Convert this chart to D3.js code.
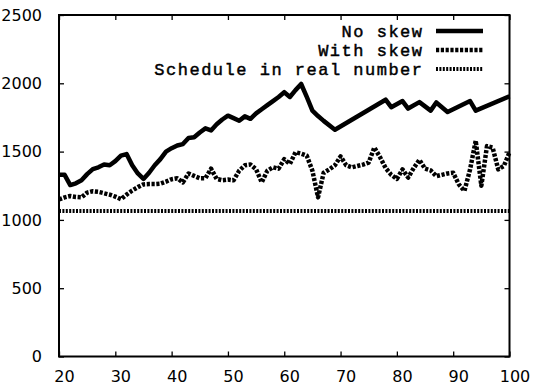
<!DOCTYPE html>
<html>
<head>
<meta charset="utf-8">
<script src="https://cdn.jsdelivr.net/npm/d3@7"></script>
<style>
  body { margin: 0; background: #fff; }
  .tick text { font-family: "DejaVu Sans", sans-serif; font-size: 16px; fill: #000; }
  .legend { font-family: "Liberation Mono", "Courier New", monospace; font-size: 17px; letter-spacing: 1.5px; fill: #000; stroke: #000; stroke-width: 0.45px; }
</style>
</head>
<body>
<svg id="chart" width="533" height="386"></svg>
<script>
// DATA
const noSkewX = [20, 21, 22, 23, 24, 25, 26, 27, 28, 29, 30, 31, 32, 33, 34, 35, 36, 37, 38, 39,
  40, 41, 42, 43, 44, 45, 46, 47, 48, 49, 50, 51, 52, 53, 54, 55, 56, 57, 58, 59,
  60, 61, 62, 63, 64, 65, 66, 67, 69, 78, 79, 81, 82, 84, 86, 87, 89, 93, 94, 100];
const noSkewY = [1330, 1330, 1255, 1268, 1290, 1335, 1372, 1385, 1405, 1400, 1430, 1470, 1482, 1400, 1340, 1300, 1345, 1400, 1445, 1500,
  1525, 1545, 1555, 1600, 1605, 1640, 1670, 1655, 1700, 1735, 1763, 1745, 1726, 1758, 1740, 1780, 1810, 1840, 1870, 1900,
  1935, 1900, 1950, 1995, 1900, 1800, 1760, 1725, 1660, 1880, 1825, 1870, 1815, 1862, 1800, 1860, 1790, 1870, 1800, 1905];

const withSkewX = [20, 21, 22, 23, 24, 25, 26, 27, 28, 29, 30, 31, 32, 33, 34, 35, 36, 37, 38, 39,
  40, 41, 42, 43, 44, 45, 46, 47, 48, 49, 50, 51, 52, 53, 54, 55, 56, 57, 58, 59,
  60, 61, 62, 63, 64, 65, 66, 67, 68, 69, 70, 71, 72, 73, 74, 75, 76, 77, 78, 79,
  80, 81, 82, 83, 84, 85, 86, 87, 88, 89, 90, 91, 92, 93, 94, 95, 96, 97, 98, 99, 100];
const withSkewY = [1150, 1165, 1175, 1168, 1165, 1200, 1210, 1205, 1195, 1185, 1170, 1152, 1185, 1215, 1240, 1260, 1262, 1262, 1265, 1280,
  1298, 1305, 1275, 1340, 1322, 1305, 1305, 1375, 1300, 1290, 1295, 1290, 1360, 1400, 1405, 1370, 1275, 1360, 1385, 1375,
  1445, 1410, 1495, 1485, 1470, 1360, 1165, 1345, 1370, 1400, 1465, 1400, 1385, 1395, 1405, 1420, 1530, 1460, 1380, 1330,
  1300, 1370, 1310, 1380, 1440, 1375, 1362, 1320, 1330, 1340, 1345, 1260, 1212, 1370, 1580, 1250, 1540, 1530, 1370, 1395, 1495];

const scheduleX = [20, 100];
const scheduleY = [1065, 1065];

const seriesNames = ["No skew", "With skew", "Schedule in real number"];
const xTicks = [20, 30, 40, 50, 60, 70, 80, 90, 100];
const yTicks = [0, 500, 1000, 1500, 2000, 2500];

// SETUP
const margin = { top: 15, right: 23.5, bottom: 29.5, left: 59 },
    width = 533 - margin.left - margin.right,
    height = 386 - margin.top - margin.bottom;

const svg = d3.select("#chart")
    .append("g")
    .attr("transform", `translate(${margin.left},${margin.top})`);

const x = d3.scaleLinear().domain([20, 100]).range([0, width]);
const y = d3.scaleLinear().domain([0, 2500]).range([height, 0]);

// AXES (gnuplot style: ticks inward on all four sides)
svg.append("g")
    .attr("transform", `translate(0,${height})`)
    .call(d3.axisBottom(x).tickValues(xTicks).tickSize(-5).tickPadding(14))
    .call(g => g.selectAll("text").attr("dx", 5));

svg.append("g")
    .call(d3.axisTop(x).tickValues(xTicks).tickSize(-5).tickFormat(""));

svg.append("g")
    .call(d3.axisLeft(y).tickValues(yTicks).tickSize(-5).tickPadding(17).tickFormat(d3.format("d")));

svg.append("g")
    .attr("transform", `translate(${width},0)`)
    .call(d3.axisRight(y).tickValues(yTicks).tickSize(-5).tickFormat(""));

svg.selectAll(".domain").remove();
svg.selectAll(".tick line").attr("stroke", "#000").attr("stroke-width", 1.3);

// frame
svg.append("rect")
    .attr("width", width)
    .attr("height", height)
    .attr("fill", "none")
    .attr("stroke", "#000")
    .attr("stroke-width", 2);

// LINES
const line = d3.line()
    .x(d => x(d[0]))
    .y(d => y(d[1]));

const styles = [
    { width: 4.5, dash: null },
    { width: 4.5, dash: "3.2,1.6" },
    { width: 4, dash: "2,1.4" }
];

const series = [
    d3.zip(noSkewX, noSkewY),
    d3.zip(withSkewX, withSkewY),
    d3.zip(scheduleX, scheduleY)
];

series.forEach((s, i) => {
    svg.append("path")
        .datum(s)
        .attr("d", line)
        .attr("fill", "none")
        .attr("stroke", "#000")
        .attr("stroke-width", styles[i].width)
        .attr("stroke-dasharray", styles[i].dash)
        .attr("stroke-linejoin", "round");
});

// LEGEND
const legend = svg.append("g")
    .attr("transform", `translate(${423.5 - margin.left},${31 - margin.top})`);

seriesNames.forEach((name, i) => {
    const row = legend.append("g").attr("transform", `translate(0,${i * 19})`);
    row.append("text")
        .attr("class", "legend")
        .attr("text-anchor", "end")
        .attr("dy", "0.35em")
        .text(name);
    row.append("line")
        .attr("x1", 12.5)
        .attr("x2", 59.5)
        .attr("stroke", "#000")
        .attr("stroke-width", styles[i].width)
        .attr("stroke-dasharray", styles[i].dash);
});
</script>
</body>
</html>
